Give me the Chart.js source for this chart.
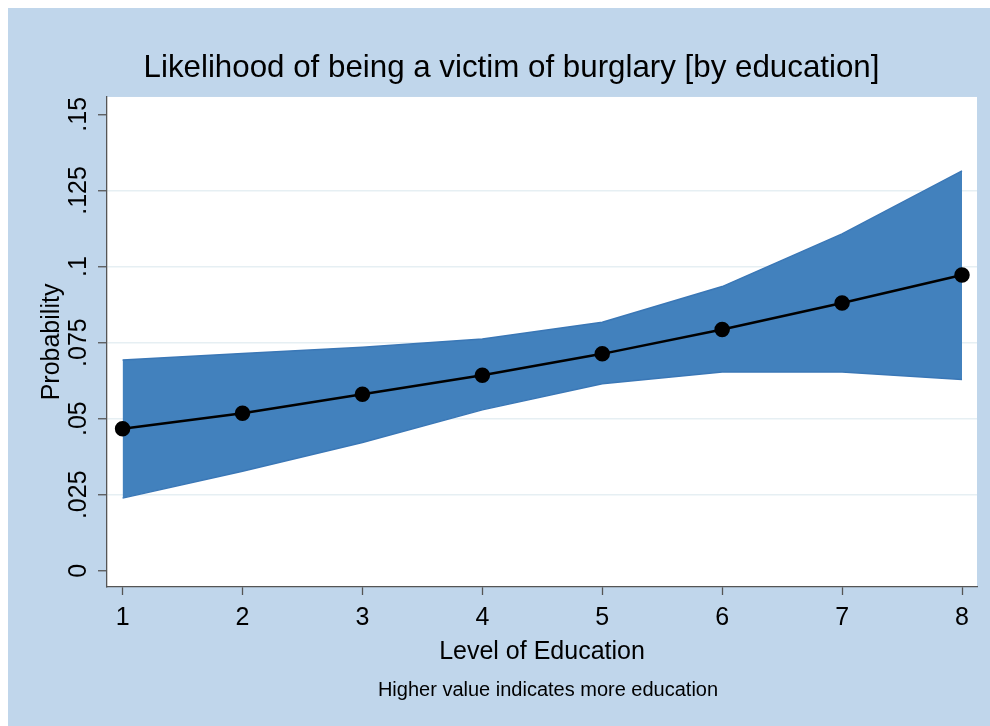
<!DOCTYPE html>
<html>
<head>
<meta charset="utf-8">
<script src="https://cdn.jsdelivr.net/npm/chart.js@4/dist/chart.umd.min.js"></script>
<style>
  html, body { margin: 0; padding: 0; background: #fff; }
  #wrap { position: absolute; left: 8px; top: 8px; width: 982px; height: 718px; background: #c0d6eb; }
  canvas { display: block; }
</style>
</head>
<body>
<div id="wrap"><canvas id="chart" width="982" height="718"></canvas></div>
<script>
// data
const educationLevels = [1, 2, 3, 4, 5, 6, 7, 8];
const probability = [0.0467, 0.0518, 0.0580, 0.0643, 0.0713, 0.0793, 0.0880, 0.0972];
const upperCI = [0.0693, 0.0714, 0.0735, 0.0762, 0.0817, 0.0934, 0.1107, 0.1314];
const lowerCI = [0.0239, 0.0327, 0.0422, 0.0529, 0.0615, 0.0653, 0.0653, 0.0629];

// tick labels
const yTickValues = [0, 0.025, 0.05, 0.075, 0.1, 0.125, 0.15];
const yTickLabels = ['0', '.025', '.05', '.075', '.1', '.125', '.15'];
const xTickValues = [1, 2, 3, 4, 5, 6, 7, 8];

const noteText = 'Higher value indicates more education';

const FONT = '"Liberation Sans", Arial, sans-serif';
const AXIS_COLOR = '#555';

const toPoints = arr => educationLevels.map((x, i) => ({ x: x, y: arr[i] }));

// white plot region
const plotBg = {
    id: 'plotBg',
    beforeDraw(chart) {
        const { ctx, chartArea: a } = chart;
        ctx.save();
        ctx.fillStyle = '#fff';
        ctx.fillRect(a.left, a.top, a.right - a.left, a.bottom - a.top);
        ctx.restore();
    }
};

// y tick labels are rotated like in stata, plus the note under the x title
const extraText = {
    id: 'extraText',
    afterDraw(chart) {
        const { ctx } = chart;
        const y = chart.scales.y;
        ctx.save();
        ctx.font = '25px ' + FONT;
        ctx.fillStyle = '#000';
        ctx.textAlign = 'center';
        ctx.textBaseline = 'middle';
        yTickValues.forEach((v, i) => {
            ctx.save();
            ctx.translate(71, y.getPixelForValue(v));
            ctx.rotate(-Math.PI / 2);
            ctx.fillText(yTickLabels[i], 0, 0);
            ctx.restore();
        });
        ctx.font = '20px ' + FONT;
        ctx.fillText(noteText, 540, 682);
        ctx.restore();
    }
};

new Chart(document.getElementById('chart'), {
    type: 'line',
    data: {
        datasets: [
            {
                label: 'Probability',
                data: toPoints(probability),
                borderColor: '#000',
                borderWidth: 2.5,
                pointRadius: 6.5,
                pointBackgroundColor: '#000',
                pointBorderColor: '#000',
                fill: false,
                tension: 0
            },
            {
                label: 'lower',
                data: toPoints(lowerCI),
                borderColor: '#3a77b6',
                borderWidth: 1.5,
                pointRadius: 0,
                fill: false,
                tension: 0
            },
            {
                label: 'upper',
                data: toPoints(upperCI),
                borderColor: '#3a77b6',
                borderWidth: 1.5,
                backgroundColor: '#4281bd',
                pointRadius: 0,
                fill: '-1',
                tension: 0
            }
        ]
    },
    options: {
        responsive: false,
        animation: false,
        layout: { padding: { left: 38, right: 13, top: 0, bottom: 0 } },
        plugins: {
            legend: { display: false },
            tooltip: { enabled: false },
            title: {
                display: true,
                text: 'Likelihood of being a victim of burglary [by education]',
                color: '#000',
                font: { family: FONT, size: 31.3, weight: 'normal' },
                padding: { top: 41.5, bottom: 9.9 }
            }
        },
        scales: {
            x: {
                type: 'linear',
                min: 0.87,
                max: 8.125,
                afterBuildTicks: s => { s.ticks = xTickValues.map(v => ({ value: v })); },
                afterFit: s => { s.height = 139; },
                grid: { drawOnChartArea: false, tickLength: 8, tickColor: AXIS_COLOR, tickWidth: 1.3 },
                border: { display: true, color: AXIS_COLOR, width: 1.3 },
                ticks: { color: '#000', font: { family: FONT, size: 25 }, padding: 8, maxRotation: 0 },
                title: {
                    display: true,
                    text: 'Level of Education',
                    color: '#000',
                    font: { family: FONT, size: 25 },
                    padding: { top: 0, bottom: 59 }
                }
            },
            y: {
                min: -0.0053,
                max: 0.1557,
                afterBuildTicks: s => { s.ticks = yTickValues.map(v => ({ value: v })); },
                afterFit: s => { s.width = 61; },
                grid: {
                    color: c => (c.tick && (c.tick.value === 0 || c.tick.value === 0.15)) ? 'rgba(0,0,0,0)' : '#e6eff3',
                    lineWidth: 1.5,
                    tickLength: 9,
                    tickColor: AXIS_COLOR,
                    tickWidth: 1.3
                },
                border: { display: true, color: AXIS_COLOR, width: 1.3 },
                ticks: { display: false },
                title: {
                    display: true,
                    text: 'Probability',
                    color: '#000',
                    font: { family: FONT, size: 25 },
                    padding: { top: -9, bottom: 0 }
                }
            }
        }
    },
    plugins: [plotBg, extraText]
});
</script>
</body>
</html>
